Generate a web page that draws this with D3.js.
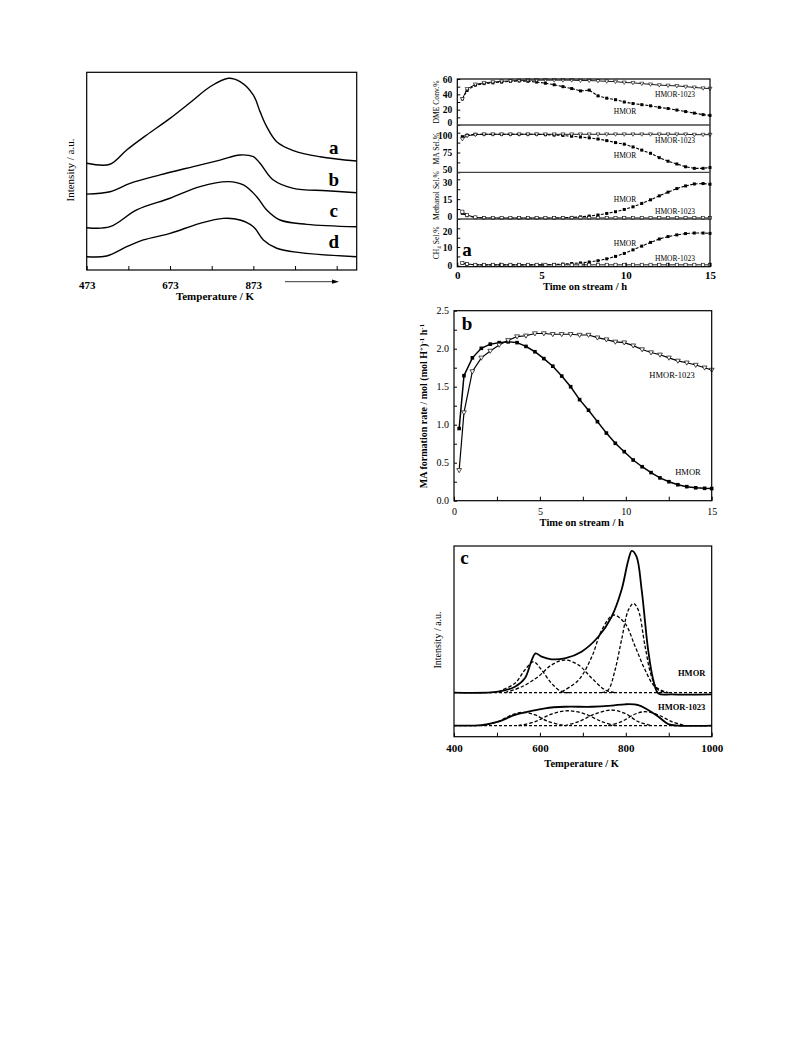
<!DOCTYPE html>
<html>
<head>
<meta charset="utf-8">
<script src="https://cdn.jsdelivr.net/npm/d3@7"></script>
<style>
    body { margin: 0; background: #fff; }
    svg { font-family: "Liberation Serif", "DejaVu Serif", serif; }
</style>
</head>
<body>
<script>
// ---- left panel: four TPD curves (temperature K, intensity a.u.)
const tpdA = [[473,54.0],[529,53.5],[569,60.7],[617,68.3],[673,76.7],[729,86.0],[769,92.7],[813,97.0],[841,95.3],[873,88.5],[889,80.1],[905,72.5],[929,64.9],[969,60.4],[1033,57.3],[1121,55.1]];
const tpdB = [[473,38.4],[529,39.6],[577,43.8],[649,48.1],[729,52.3],[793,55.6],[841,58.2],[873,57.3],[889,54.0],[921,45.5],[969,41.3],[1049,40.1],[1121,39.1]];
const tpdC = [[473,21.4],[529,21.9],[593,30.4],[673,36.3],[745,42.2],[813,44.7],[849,43.0],[881,37.1],[905,30.4],[937,25.3],[1001,23.1],[1121,21.9]];
const tpdD = [[473,6.7],[521,7.1],[569,11.8],[609,15.2],[673,18.5],[745,23.6],[801,26.1],[841,25.3],[873,21.9],[897,15.2],[929,11.0],[985,8.8],[1121,6.7]];
const tpdNames = ["a", "b", "c", "d"];
const tpdLabelY = [60.7, 44.7, 29.0, 13.2];
const tpdTicks = [473, 573, 673, 773, 873, 973, 1073];
const tpdTickLabels = [473, 673, 873];

// ---- panel a / b: time on stream (h)
const timeOnStream = [0.3, 0.58, 1.07, 1.59, 2.11, 2.63, 3.15, 3.67, 4.19, 4.71, 5.23, 5.75, 6.27, 6.79, 7.31, 7.83, 8.35, 8.87, 9.39, 9.91, 10.43, 10.95, 11.47, 11.99, 12.51, 13.03, 13.55, 14.07, 14.59, 15.0];

const dmeHMOR = [34, 45, 52, 54, 55, 56, 57, 57.5, 57, 56, 54.5, 52.5, 50, 47.5, 44.5, 45.5, 38, 35, 33, 30, 28, 26.5, 25, 23, 21.5, 19.5, 17.5, 15.5, 13.5, 12.5];
const dme1023 = [34, 47, 53, 55, 56, 57, 57.5, 58, 58.5, 58.5, 58.5, 58.5, 58.5, 58.5, 58, 58, 57.5, 57, 56.5, 55.5, 55, 54, 53, 52, 51.5, 51, 50, 49, 48, 47.5];
const maHMOR = [95, 97, 98, 98, 98, 98, 98, 98, 98, 98, 97.5, 97, 96.5, 95.5, 94.5, 93.5, 92, 90, 87.5, 85.5, 82, 78, 74, 68.5, 64, 60.5, 57, 55, 55, 56];
const ma1023 = [92, 96, 97.5, 98, 98, 98, 98, 98, 98, 98, 98, 98, 98, 98, 98, 98, 98, 98, 98, 98, 98, 98, 98, 98, 98, 98, 98, 97.5, 97.5, 97.5];
const meohHMOR = [4.3, 2.5, 1.0, 0.7, 0.5, 0.5, 0.5, 0.5, 0.5, 0.5, 0.5, 0.6, 0.8, 1.2, 1.6, 2.2, 3.0, 4.2, 5.5, 7.2, 9.2, 11.8, 14.5, 17.5, 20.3, 23, 25, 26.5, 26.8, 26.3];
const meoh1023 = [5.5, 3, 1.2, 0.8, 0.8, 0.8, 0.8, 0.8, 0.8, 0.8, 0.8, 0.8, 0.8, 0.8, 0.8, 0.8, 0.8, 0.8, 0.8, 0.8, 0.8, 0.8, 0.8, 0.8, 0.8, 0.8, 0.8, 0.8, 0.8, 0.8];
const ch4HMOR = [1.2, 0.8, 0.5, 0.5, 0.5, 0.5, 0.5, 0.5, 0.5, 0.5, 0.5, 0.7, 0.9, 1.2, 1.5, 2.0, 2.7, 3.7, 5.0, 6.6, 8.5, 10.5, 12.5, 14.3, 15.6, 16.5, 17.2, 17.5, 17.5, 17.3];
const ch41023 = [1.5, 1.0, 0.5, 0.5, 0.5, 0.5, 0.5, 0.5, 0.5, 0.5, 0.5, 0.5, 0.5, 0.5, 0.5, 0.5, 0.5, 0.5, 0.5, 0.5, 0.5, 0.5, 0.5, 0.5, 0.5, 0.5, 0.5, 0.5, 0.5, 0.5];

const rateHMOR = [0.95, 1.645, 1.88, 2.005, 2.06, 2.08, 2.09, 2.08, 2.03, 1.96, 1.87, 1.77, 1.64, 1.50, 1.33, 1.19, 1.04, 0.89, 0.755, 0.645, 0.535, 0.447, 0.37, 0.30, 0.25, 0.21, 0.185, 0.17, 0.163, 0.16];
const rate1023 = [0.40, 1.16, 1.70, 1.88, 1.97, 2.05, 2.11, 2.16, 2.17, 2.20, 2.20, 2.19, 2.19, 2.19, 2.18, 2.18, 2.145, 2.12, 2.09, 2.08, 2.04, 1.99, 1.95, 1.92, 1.88, 1.84, 1.815, 1.785, 1.75, 1.72];

// ---- panel c: deconvoluted NH3-TPD (temperature K, intensity a.u.)
const cHmorTotal = [[400,23.1],[503,23.6],[542,26.2],[565,30.6],[581,40.2],[590,43.7],[604,42.0],[627,40.6],[658,41.1],[697,44.6],[736,52.4],[767,62.9],[790,76.9],[806,92.7],[814,97.4],[825,94.4],[837,76.9],[852,45.5],[864,29.7],[876,22.7],[907,22.2],[1000,22.2]];
const cHmorPeaks = [
    [[503,23.6],[542,28.0],[565,35.0],[585,39.3],[604,35.0],[627,28.0],[651,23.6],[674,23.1]],
    [[519,23.1],[558,26.2],[596,31.5],[627,37.6],[658,40.2],[690,37.6],[721,30.6],[752,24.5],[775,23.1]],
    [[651,23.6],[690,29.7],[721,42.0],[744,55.9],[771,63.8],[798,59.4],[822,47.2],[845,35.0],[868,26.2],[899,23.1]],
    [[744,23.1],[759,24.5],[775,35.0],[790,50.7],[806,66.4],[818,69.9],[829,66.4],[845,47.2],[860,31.5],[876,24.5],[899,23.1]]
];
const c1023Total = [[400,5.8],[464,6.1],[503,7.9],[542,11.4],[573,13.1],[612,14.9],[658,15.7],[721,15.7],[767,16.3],[798,17.0],[829,16.6],[852,14.0],[876,10.5],[899,6.6],[922,5.8],[1000,5.8]];
const c1023Peaks = [
    [[464,5.8],[503,7.9],[534,11.4],[561,12.8],[589,11.4],[620,7.9],[658,5.8]],
    [[550,5.8],[589,7.9],[627,11.9],[666,13.6],[705,11.9],[744,7.9],[775,5.8]],
    [[658,5.8],[690,7.9],[728,11.9],[767,14.0],[798,12.2],[829,7.9],[860,5.8]],
    [[759,5.8],[790,7.9],[822,11.9],[845,13.1],[876,11.4],[907,7.9],[938,5.8]]
];
const cBaselines = [23.1, 5.8];
const cTicks = [400, 500, 600, 700, 800, 900, 1000];
const cTickLabels = [400, 600, 800, 1000];

const svg = d3.select("body").append("svg")
    .attr("width", 793)
    .attr("height", 1057);

function frame(x0, y0, x1, y1) {
    svg.append("rect")
        .attr("x", x0).attr("y", y0)
        .attr("width", x1 - x0).attr("height", y1 - y0)
        .attr("fill", "none").attr("stroke", "#000").attr("stroke-width", 1.2);
}

function styleAxis(a, size, bold) {
    a.select(".domain").remove();
    a.attr("font-family", null).attr("font-size", size);
    a.selectAll("text").attr("font-weight", bold ? "bold" : "normal").attr("fill", "#000");
    a.selectAll("line").attr("stroke", "#000");
}

function bottomAxis(x, y0, values, labels, pad, size, bold) {
    let a = svg.append("g")
        .attr("transform", `translate(0,${y0})`)
        .call(d3.axisBottom(x).tickValues(values).tickSize(-4).tickPadding(pad)
            .tickFormat(d => labels.includes(d) ? d : ""));
    styleAxis(a, size, bold);
}

function leftAxis(y, x0, values, labels, fmt, size, bold) {
    let a = svg.append("g")
        .attr("transform", `translate(${x0},0)`)
        .call(d3.axisLeft(y).tickValues(values).tickSize(-3).tickPadding(5)
            .tickFormat(d => labels.includes(d) ? fmt(d) : ""));
    styleAxis(a, size, bold);
    return a;
}

function text(x, y, s, size, bold, rotate) {
    let t = svg.append("text")
        .attr("x", x).attr("y", y)
        .attr("text-anchor", "middle")
        .attr("dominant-baseline", "middle")
        .attr("font-size", size)
        .attr("font-weight", bold ? "bold" : "normal")
        .text(s);
    if (rotate) t.attr("transform", `rotate(-90,${x},${y})`);
    return t;
}

// ================= left panel
{
    let x = d3.scaleLinear().domain([473, 1121]).range([86.7, 356.7]),
        y = d3.scaleLinear().domain([0, 100]).range([270, 72.3]);
    let line = d3.line().x(d => x(d[0])).y(d => y(d[1])).curve(d3.curveCatmullRom);

    svg.append("g").selectAll("path")
        .data([tpdA, tpdB, tpdC, tpdD])
        .enter().append("path")
        .attr("d", line)
        .attr("fill", "none").attr("stroke", "#000").attr("stroke-width", 1.4);

    frame(86.7, 72.3, 356.7, 270);
    bottomAxis(x, 270, tpdTicks, tpdTickLabels, 11, 11, true);

    tpdNames.forEach((n, i) => {
        text(x(1066), y(tpdLabelY[i]), n, 19, true);
    });

    text(215, 297.7, "Temperature / K", 11, true);
    text(71.7, 170, "Intensity / a.u.", 11, false, true);

    // arrow below the axis
    svg.append("line")
        .attr("x1", 285).attr("x2", 334).attr("y1", 281.7).attr("y2", 281.7)
        .attr("stroke", "#000").attr("stroke-width", 0.8);
    svg.append("path")
        .attr("d", "M339,281.7 L332,279.6 L332,283.8 Z")
        .attr("fill", "#000");
}

// ================= panel a
{
    let x = d3.scaleLinear().domain([0, 15]).range([457.3, 710]);
    let subs = [
        {top: 79, bottom: 125, domain: [0, 60], ticks: [0, 10, 20, 30, 40, 50, 60], labels: [0, 20, 40, 60],
            hmor: dmeHMOR, m1023: dme1023, title: "DME Conv.%", lab: [[625, 112.7], [675, 95]], open: "tri"},
        {top: 125, bottom: 172.3, domain: [50, 109.7], ticks: [50, 62.5, 75, 87.5, 100], labels: [50, 75, 100],
            hmor: maHMOR, m1023: ma1023, title: "MA Sel.%", lab: [[625, 156], [675, 141.7]], open: "tri"},
        {top: 172.3, bottom: 219, domain: [0, 35.3], ticks: [0, 7.5, 15, 22.5, 30], labels: [0, 15, 30],
            hmor: meohHMOR, m1023: meoh1023, title: "Methanol Sel.%", lab: [[625, 200], [675, 212.7]], open: "sq"},
        {top: 219, bottom: 266.7, domain: [-0.5, 25], ticks: [0, 5, 10, 15, 20], labels: [0, 10, 20],
            hmor: ch4HMOR, m1023: ch41023, title: "CH\u2084 Sel.%", lab: [[625, 244], [675, 259.3]], open: "sq"}
    ];

    subs.forEach((s, i) => {
        let y = d3.scaleLinear().domain(s.domain).range([s.bottom, s.top]);
        let line = d3.line().x(d => x(d[0])).y(d => y(d[1]));
        let pHmor = d3.zip(timeOnStream, s.hmor),
            p1023 = d3.zip(timeOnStream, s.m1023);

        svg.append("path").attr("d", line(p1023))
            .attr("fill", "none").attr("stroke", "#000").attr("stroke-width", 0.9);
        svg.append("path").attr("d", line(pHmor))
            .attr("fill", "none").attr("stroke", "#000").attr("stroke-width", 1.1)
            .attr("stroke-dasharray", "3,1.5");

        svg.append("g").selectAll("rect")
            .data(pHmor).enter().append("rect")
            .attr("x", d => x(d[0]) - 1.5).attr("y", d => y(d[1]) - 1.5)
            .attr("width", 3).attr("height", 3).attr("fill", "#000");

        if (s.open === "tri") {
            svg.append("g").selectAll("path")
                .data(p1023).enter().append("path")
                .attr("transform", d => `translate(${x(d[0])},${y(d[1])})`)
                .attr("d", "M-2,-1.4 L2,-1.4 L0,2 Z")
                .attr("fill", "#fff").attr("stroke", "#000").attr("stroke-width", 0.6);
        } else {
            svg.append("g").selectAll("rect")
                .data(p1023).enter().append("rect")
                .attr("x", d => x(d[0]) - 1.6).attr("y", d => y(d[1]) - 1.6)
                .attr("width", 3.2).attr("height", 3.2)
                .attr("fill", "#fff").attr("stroke", "#000").attr("stroke-width", 0.6);
        }

        let a = leftAxis(y, 457.3, s.ticks, s.labels, d3.format("d"), 9.5, true);
        // keep the labels at the subpanel joins from running into each other
        a.selectAll(".tick text").attr("dy", d => {
            if (i < 3 && d === s.domain[0]) return "0.05em";
            if (i > 0 && d === s.labels[s.labels.length - 1]) return "0.62em";
            return "0.32em";
        });
        text(437.5, (s.top + s.bottom) / 2, s.title, 7.6, false, true);
        text(s.lab[0][0], s.lab[0][1], "HMOR", 7.5, false);
        text(s.lab[1][0], s.lab[1][1], "HMOR-1023", 7.5, false);
    });

    frame(457.3, 79, 710, 266.7);
    [125, 172.3, 219].forEach(yy => {
        svg.append("line").attr("x1", 457.3).attr("x2", 710).attr("y1", yy).attr("y2", yy)
            .attr("stroke", "#444").attr("stroke-width", 1.3);
    });
    bottomAxis(x, 266.7, [0, 2.5, 5, 7.5, 10, 12.5, 15], [0, 5, 10, 15], 4.5, 11, true);
    text(585, 287.3, "Time on stream / h", 10.5, true);
    text(467, 252, "a", 19, true);
}

// ================= panel b
{
    let x = d3.scaleLinear().domain([0, 15]).range([454, 711.7]),
        y = d3.scaleLinear().domain([0, 2.5]).range([500.7, 310.7]);
    let line = d3.line().x(d => x(d[0])).y(d => y(d[1]));
    let pHmor = d3.zip(timeOnStream, rateHMOR),
        p1023 = d3.zip(timeOnStream, rate1023);

    svg.append("path").attr("d", line(p1023))
        .attr("fill", "none").attr("stroke", "#000").attr("stroke-width", 1.2);
    svg.append("path").attr("d", line(pHmor))
        .attr("fill", "none").attr("stroke", "#000").attr("stroke-width", 1.5);

    svg.append("g").selectAll("rect")
        .data(pHmor).enter().append("rect")
        .attr("x", d => x(d[0]) - 1.8).attr("y", d => y(d[1]) - 1.8)
        .attr("width", 3.6).attr("height", 3.6).attr("fill", "#000");
    svg.append("g").selectAll("path")
        .data(p1023).enter().append("path")
        .attr("transform", d => `translate(${x(d[0])},${y(d[1])})`)
        .attr("d", "M-2.4,-1.7 L2.4,-1.7 L0,2.4 Z")
        .attr("fill", "#fff").attr("stroke", "#000").attr("stroke-width", 0.7);

    frame(454, 310.7, 711.7, 500.7);
    leftAxis(y, 454, d3.range(0, 2.51, 0.25), [0, 0.5, 1, 1.5, 2, 2.5], d3.format(".1f"), 10, false);
    bottomAxis(x, 500.7, [0, 2.5, 5, 7.5, 10, 12.5, 15], [0, 5, 10, 15], 7, 10, false);

    text(581.7, 524, "Time on stream / h", 10.5, true);
    let yt = text(425, 406, "", 10, true, true);
    yt.append("tspan").text("MA formation rate / mol (mol H");
    yt.append("tspan").attr("dy", -3.5).attr("font-size", 7).text("+");
    yt.append("tspan").attr("dy", 3.5).text(")");
    yt.append("tspan").attr("dy", -3.5).attr("font-size", 7).text("-1");
    yt.append("tspan").attr("dy", 3.5).text(" h");
    yt.append("tspan").attr("dy", -3.5).attr("font-size", 7).text("-1");
    text(467, 326, "b", 19, true);
    text(672, 376, "HMOR-1023", 8.5, false);
    text(688, 473, "HMOR", 8.5, false);
}

// ================= panel c
{
    let x = d3.scaleLinear().domain([400, 1000]).range([454, 711.7]),
        y = d3.scaleLinear().domain([0, 100]).range([736.7, 546]);
    let line = d3.line().x(d => x(d[0])).y(d => y(d[1])).curve(d3.curveCatmullRom);

    // baselines of the deconvolution
    cBaselines.forEach(b => {
        svg.append("path").attr("d", line([[400, b], [1000, b]]))
            .attr("fill", "none").attr("stroke", "#000").attr("stroke-width", 1.3)
            .attr("stroke-dasharray", "3,2");
    });

    svg.append("g").selectAll("path")
        .data(cHmorPeaks.concat(c1023Peaks))
        .enter().append("path")
        .attr("d", line)
        .attr("fill", "none").attr("stroke", "#000").attr("stroke-width", 1.3)
        .attr("stroke-dasharray", "3.5,2");

    svg.append("g").selectAll("path")
        .data([cHmorTotal, c1023Total])
        .enter().append("path")
        .attr("d", line)
        .attr("fill", "none").attr("stroke", "#000").attr("stroke-width", 1.8);

    frame(454, 546, 711.7, 736.7);
    bottomAxis(x, 736.7, cTicks, cTickLabels, 8, 11, true);
    text(581.7, 765, "Temperature / K", 10.5, true);
    text(438.3, 640, "Intensity / a.u.", 10, false, true);
    text(464.5, 559.5, "c", 19, true);
    text(691.7, 674, "HMOR", 8.5, true);
    text(681.7, 708.3, "HMOR-1023", 8.5, true);
}
</script>
</body>
</html>
